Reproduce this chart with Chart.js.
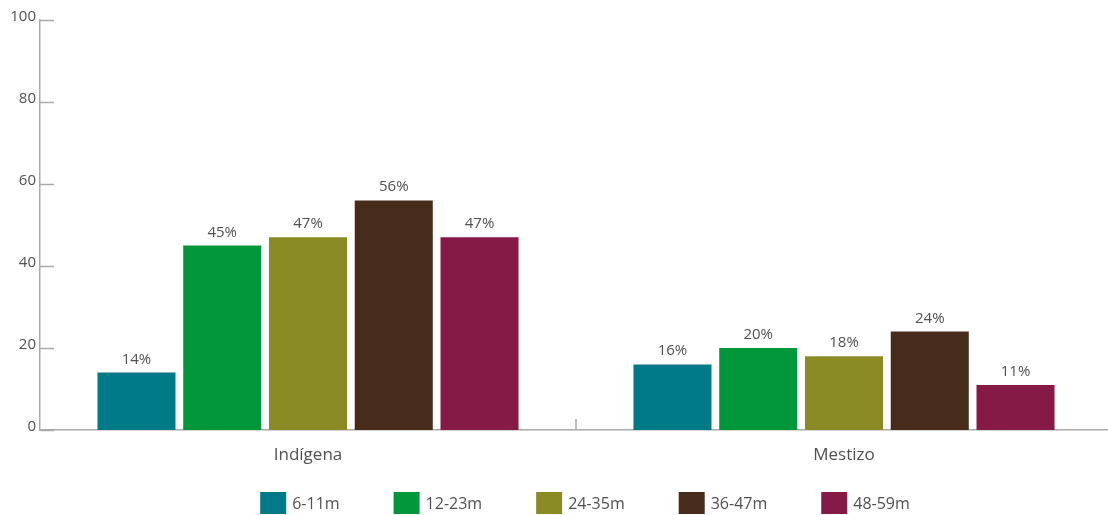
<!DOCTYPE html>
<html>
<head>
<meta charset="utf-8">
<script src="https://cdn.jsdelivr.net/npm/chart.js@4/dist/chart.umd.min.js"></script>
<style>
  html, body { margin: 0; padding: 0; background: #fff; overflow: hidden; }
  #wrap { width: 1112px; height: 515px; }
</style>
</head>
<body>
<div id="wrap"><canvas id="stunting_chart"></canvas></div>
<script>
const groups = ["Indígena", "Mestizo"];
const ageBands = ["6-11m", "12-23m", "24-35m", "36-47m", "48-59m"];
const bandColors = ["#007a87", "#00973a", "#8a8b24", "#472c1b", "#851a46"];
const ageValues = [
    [14, 16],
    [45, 20],
    [47, 18],
    [56, 24],
    [47, 11]
];
const yTicks = [0, 20, 40, 60, 80, 100];

const FONT = "'Open Sans', 'Noto Sans', sans-serif";
const TEXT = "#515151";
const AXIS = "#ababab";

// percent labels above each bar
const valueLabels = {
    id: "valueLabels",
    afterDatasetsDraw(chart) {
        const ctx = chart.ctx;
        ctx.save();
        ctx.font = "15px " + FONT;
        ctx.fillStyle = TEXT;
        ctx.textAlign = "center";
        ctx.textBaseline = "alphabetic";
        chart.data.datasets.forEach(function (ds, i) {
            chart.getDatasetMeta(i).data.forEach(function (bar, j) {
                ctx.fillText(ds.data[j] + "%", bar.x, bar.y - 9);
            });
        });
        ctx.restore();
    }
};

// short tick marks pointing into the plot, plus group separators
const innerTicks = {
    id: "innerTicks",
    afterDraw(chart) {
        const ctx = chart.ctx, y = chart.scales.y, x = chart.scales.x;
        ctx.save();
        ctx.strokeStyle = AXIS;
        ctx.lineWidth = 1.5;
        ctx.beginPath();
        yTicks.forEach(function (v) {
            const py = Math.round(y.getPixelForValue(v)) + 0.5;
            ctx.moveTo(y.right, py);
            ctx.lineTo(y.right + 14, py);
        });
        for (let i = 1; i < groups.length; i++) {
            const px = Math.round((x.getPixelForValue(i - 1) + x.getPixelForValue(i)) / 2);
            ctx.moveTo(px, x.top);
            ctx.lineTo(px, x.top - 11);
        }
        ctx.stroke();
        ctx.restore();
    }
};

// legend row along the bottom: square swatch then the band name
const bottomLegend = {
    id: "bottomLegend",
    afterDraw(chart) {
        const ctx = chart.ctx;
        const box = 26, boxH = 22, gap = 6, spacing = 54;
        ctx.save();
        ctx.font = "16px " + FONT;
        const widths = ageBands.map(function (t) { return box + gap + ctx.measureText(t).width; });
        const total = widths.reduce(function (a, b) { return a + b; }, 0) + spacing * (ageBands.length - 1);
        let cx = (1108 - total) / 2 + 31;
        const top = chart.height - boxH - 1;
        ctx.textBaseline = "middle";
        ctx.textAlign = "left";
        ageBands.forEach(function (t, i) {
            ctx.fillStyle = bandColors[i];
            ctx.fillRect(cx, top, box, boxH);
            ctx.fillStyle = TEXT;
            ctx.fillText(t, cx + box + gap, top + boxH / 2 + 1);
            cx += widths[i] + spacing;
        });
        ctx.restore();
    }
};

new Chart(document.getElementById("stunting_chart").getContext("2d"), {
    type: "bar",
    data: {
        labels: groups,
        datasets: ageBands.map(function (band, i) {
            return {
                label: band,
                data: ageValues[i],
                backgroundColor: bandColors[i],
                categoryPercentage: 0.8,
                barPercentage: 0.91
            };
        })
    },
    options: {
        responsive: true,
        maintainAspectRatio: false,
        animation: false,
        layout: { padding: { top: 20, right: 0, left: 0, bottom: 45 } },
        scales: {
            x: {
                grid: { display: false, drawTicks: false },
                border: { color: AXIS, width: 1.5 },
                ticks: { color: TEXT, font: { family: FONT, size: 17 }, padding: 15 },
                afterFit: function (scale) { scale.height = 40; }
            },
            y: {
                min: 0,
                max: 100,
                afterBuildTicks: function (scale) {
                    scale.ticks = yTicks.map(function (v) { return { value: v }; });
                },
                grid: { display: false, drawTicks: false },
                border: { color: AXIS, width: 1.5 },
                ticks: { color: TEXT, font: { family: FONT, size: 15 }, padding: 4, labelOffset: -3 },
                afterFit: function (scale) { scale.width = 40; }
            }
        },
        plugins: {
            tooltip: { enabled: false },
            legend: { display: false }
        }
    },
    plugins: [valueLabels, innerTicks, bottomLegend]
});
</script>
</body>
</html>
